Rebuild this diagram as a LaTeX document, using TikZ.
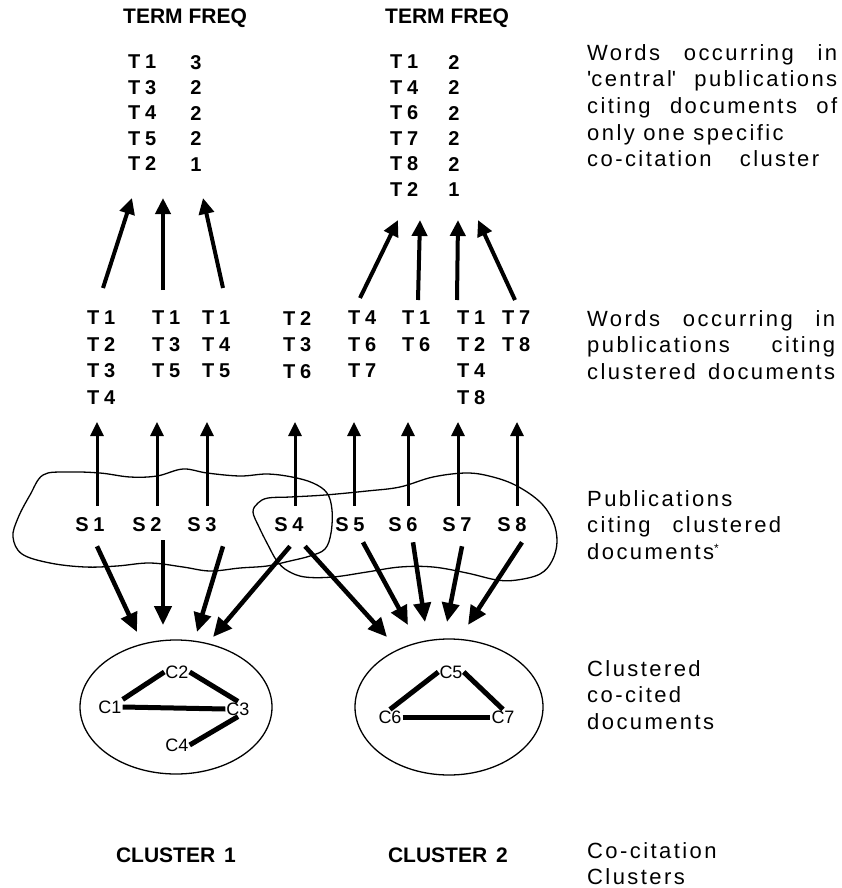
\documentclass[tikz,border=0pt]{standalone}
\usepackage{fontspec}
\setmainfont{Liberation Sans}
\newfontfamily\labfont[LetterSpace=24]{Liberation Sans}
\newfontfamily\descfont[LetterSpace=11]{Liberation Sans}
\usetikzlibrary{arrows.meta,shapes.geometric}

% a line of description text spread out to a given width
\newcommand\spreadline[2]{\makebox[#1][s]{#2}}

\tikzset{
  hdr/.style={font=\bfseries\fontsize{21}{24}\selectfont, inner sep=0pt},
  tcol/.style={font=\labfont\bfseries\fontsize{20}{25.5}\selectfont, inner sep=0pt, align=left, anchor=north west},
  fcol/.style={font=\labfont\bfseries\fontsize{20}{25.5}\selectfont, inner sep=0pt, align=center, anchor=north},
  mcol/.style={font=\labfont\bfseries\fontsize{20}{26.5}\selectfont, inner sep=0pt, align=left, anchor=north west},
  slab/.style={font=\labfont\bfseries\fontsize{20}{24}\selectfont, inner sep=0pt},
  clab/.style={font=\fontsize{18}{20}\selectfont, inner sep=1pt},
  desc/.style={font=\descfont\fontsize{22}{26.7}\selectfont, inner sep=0pt, align=left, anchor=north west},
  cname/.style={font=\bfseries\fontsize{21}{24}\selectfont, inner sep=0pt},
  uparr/.style={line width=3pt, -{Triangle[length=14pt,width=13pt]}},
  toparr/.style={line width=4pt, -{Triangle[length=16pt,width=15pt]}},
  dnarr/.style={line width=4.5pt, -{Triangle[length=19pt,width=17pt]}},
  link/.style={line width=5pt, line cap=butt},
  blob/.style={line width=1.3pt, smooth cycle, tension=0.6},
  clust/.style={draw, line width=1.3pt, ellipse, inner sep=0pt},
}

\begin{document}
\begin{tikzpicture}[x=1pt,y=-1pt]
\fill[white] (0,0) rectangle (841,888);
\useasboundingbox (0,0) rectangle (841,888);

% ---- term frequency tables ----
\node[hdr, anchor=west] (h1) at (123,18) {TERM FREQ};
\node[hdr, anchor=west] (h2) at (385,18) {TERM FREQ};
\node[tcol] (t1) at (128,55) {T1\\T3\\T4\\T5\\T2};
\node[fcol] (f1) at (196,55) {3\\2\\2\\2\\1};
\node[tcol] (t2) at (390,55) {T1\\T4\\T6\\T7\\T8\\T2};
\node[fcol] (f2) at (454,55) {2\\2\\2\\2\\2\\1};

% ---- words of the citing publications ----
\node[mcol] (w1) at (87,311)  {T1\\T2\\T3\\T4};
\node[mcol] (w2) at (152,311) {T1\\T3\\T5};
\node[mcol] (w3) at (202,311) {T1\\T4\\T5};
\node[mcol] (w4) at (283,311) {T2\\T3\\T6};
\node[mcol] (w5) at (348,311) {T4\\T6\\T7};
\node[mcol] (w6) at (402,311) {T1\\T6};
\node[mcol] (w7) at (457,311) {T1\\T2\\T4\\T8};
\node[mcol] (w8) at (502,311) {T7\\T8};

% ---- citing publications ----
\node[slab] (s1) at (90,525)  {S1};
\node[slab] (s2) at (147,525) {S2};
\node[slab] (s3) at (202,525) {S3};
\node[slab] (s4) at (289,525) {S4};
\node[slab] (s5) at (350,525) {S5};
\node[slab] (s6) at (403,525) {S6};
\node[slab] (s7) at (457,525) {S7};
\node[slab] (s8) at (512,525) {S8};

% outlines grouping the citing publications
\draw[blob] plot coordinates {(43,475) (67,472) (100,473) (130,477) (157,476) (183,469) (207,473) (240,476) (267,474) (292,477) (313,483) (327,493) (332,510) (331,533) (325,549) (310,556) (290,561) (267,566) (240,568) (210,571) (183,567) (150,563) (117,566) (85,567) (50,563) (22,554) (13,537) (18,518) (30,495)};
\draw[blob] plot coordinates {(253,512) (258,503) (268,498) (290,497) (325,495) (367,491) (400,487) (433,477) (467,473) (493,477) (517,486) (540,502) (553,521) (557,542) (552,561) (540,574) (517,580) (497,580) (467,573) (433,567) (400,567) (367,572) (333,577) (305,577) (288,571) (277,561) (268,545) (259,527)};

% ---- clustered co-cited documents ----
\node[clust, minimum width=192pt, minimum height=134pt] (e1) at (176,707) {};
\node[clust, minimum width=188pt, minimum height=136pt] (e2) at (449,707) {};

\node[clab] (c2) at (177,672) {C2};
\node[clab] (c1) at (110,707) {C1};
\node[clab] (c3) at (238,709) {C3};
\node[clab] (c4) at (177,745) {C4};
\draw[link] (c1.north east) -- (c2.west);
\draw[link] (c2.east) -- (c3.north);
\draw[link] (c1.east) -- (c3.west);
\draw[link] (c3.south) -- (c4.east);

\node[clab] (c5) at (451,672) {C5};
\node[clab] (c6) at (390,717) {C6};
\node[clab] (c7) at (503,717) {C7};
\draw[link] (c6.north) -- (c5.west);
\draw[link] (c5.east) -- (c7.north);
\draw[link] (c6.east) -- (c7.west);

% ---- arrow ends ----
\coordinate (a1) at (132,198);
\coordinate (a2) at (163,198);
\coordinate (a3) at (203,198);
\coordinate (b1) at (398,220);
\coordinate (b2) at (420,220);
\coordinate (b3) at (458,220);
\coordinate (b4) at (478,220);
\foreach \i/\x in {1/97,2/157,3/207,4/295,5/354,6/408,7/458,8/517}
  \coordinate (u\i) at (\x,422);
\coordinate (d1) at (137,632);
\coordinate (d2) at (163,625);
\coordinate (d3) at (197,632);
\coordinate (d4) at (213,637);
\coordinate (d5) at (387,637);
\coordinate (d6) at (408,625);
\coordinate (d7) at (425,622);
\coordinate (d8) at (447,622);
\coordinate (d9) at (468,625);

% words -> central terms
\draw[toparr] ([xshift=16pt,yshift=23pt]w1.north west) -- (a1);
\draw[toparr] ([xshift=11pt,yshift=21pt]w2.north west) -- (a2);
\draw[toparr] ([xshift=21pt,yshift=23pt]w3.north west) -- (a3);
\draw[toparr] ([xshift=12pt,yshift=13pt]w5.north west) -- (b1);
\draw[toparr] ([xshift=16pt,yshift=11pt]w6.north west) -- (b2);
\draw[toparr] ([xshift=0pt,yshift=11pt]w7.north west) -- (b3);
\draw[toparr] ([xshift=13pt,yshift=11pt]w8.north west) -- (b4);

% publications -> their words
\foreach \i in {1,...,8}
  \draw[uparr] (s\i.north -| u\i) ++(0,-12) -- (u\i);

% publications -> cited clusters
\draw[dnarr] ([xshift=7pt,yshift=-14pt]s1.south) -- (d1);
\draw[dnarr] ([xshift=16pt,yshift=-8pt]s2.south) -- (d2);
\draw[dnarr] ([xshift=21pt,yshift=-14pt]s3.south) -- (d3);
\draw[dnarr] ([xshift=1pt,yshift=-14pt]s4.south) -- (d4);
\draw[dnarr] ([xshift=16pt,yshift=-14pt]s4.south) -- (d5);
\draw[dnarr] ([xshift=13pt,yshift=-10pt]s5.south) -- (d6);
\draw[dnarr] ([xshift=10pt,yshift=-10pt]s6.south) -- (d7);
\draw[dnarr] ([xshift=5pt,yshift=-14pt]s7.south) -- (d8);
\draw[dnarr] ([xshift=10pt,yshift=-10pt]s8.south) -- (d9);

% ---- cluster names ----
\node[cname] (k1) at (176,855) {CLUSTER\hspace{9pt}1};
\node[cname] (k2) at (448,855) {CLUSTER\hspace{9pt}2};

% ---- level descriptions ----
\node[desc] (r1) at (587,44) {\spreadline{250pt}{Words occurring in}\\
  \spreadline{250pt}{\textquotesingle central\textquotesingle\ publications}\\
  \spreadline{250pt}{citing documents of}\\
  only one specific\\
  \spreadline{232pt}{co-citation cluster}};
\node[desc] (r2) at (587,310) {\spreadline{248pt}{Words occurring in}\\
  \spreadline{248pt}{publications citing}\\
  \spreadline{248pt}{clustered documents}};
\node[desc] (r3) at (587,490) {Publications\\
  \spreadline{194pt}{citing clustered}\\
  documents\raisebox{7pt}{\fontsize{12}{12}\selectfont *}};
\node[desc] (r4) at (587,660) {Clustered\\co-cited\\documents};
\node[desc] (r5) at (587,842) {Co-citation\\Clusters};
\end{tikzpicture}
\end{document}
